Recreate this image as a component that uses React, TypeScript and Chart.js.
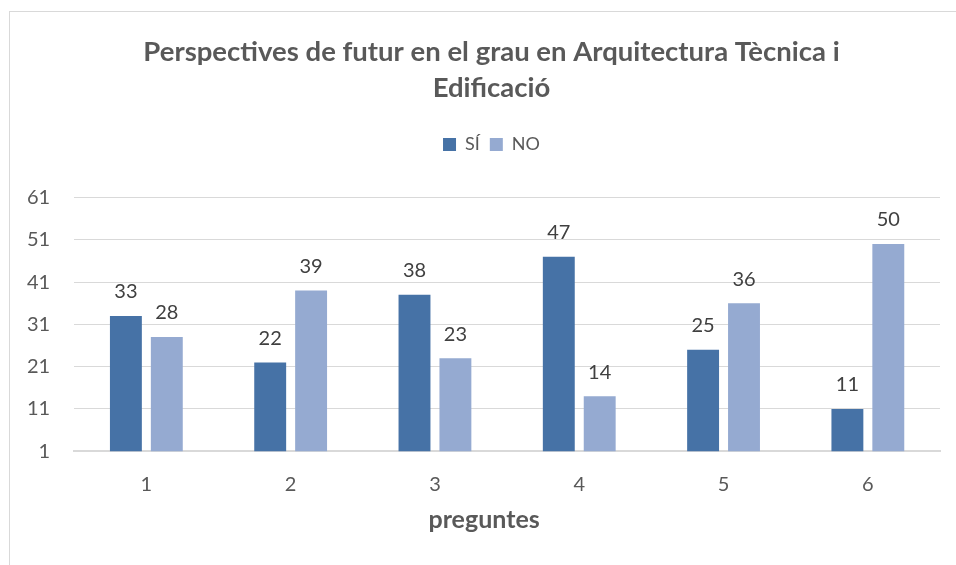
import React, { useEffect, useRef } from "react";
import { Chart, registerables } from "chart.js";

Chart.register(...registerables);

const categories = ["1", "2", "3", "4", "5", "6"];
const siValues = [33, 22, 38, 47, 25, 11];
const noValues = [28, 39, 23, 14, 36, 50];
const titleLines = ["Perspectives de futur en el grau en Arquitectura Tècnica i", "Edificació"];
const xTitle = "preguntes";
const FONT = "Lato, 'Noto Sans', sans-serif";

const dataLabels = {
  id: "dataLabels",
  afterDatasetsDraw(chart: any) {
    const ctx = chart.ctx;
    ctx.save();
    ctx.font = `20px ${FONT}`;
    ctx.fillStyle = "#404040";
    ctx.textAlign = "center";
    ctx.textBaseline = "middle";
    chart.data.datasets.forEach((ds: any, i: number) => {
      const meta = chart.getDatasetMeta(i);
      meta.data.forEach((bar: any, j: number) => {
        ctx.fillText(String(ds.data[j]), bar.x, bar.y - 24);
      });
    });
    ctx.restore();
  },
};

const xTitleDraw = {
  id: "xTitleDraw",
  afterDraw(chart: any) {
    const ctx = chart.ctx;
    const xs = chart.scales.x;
    const ca = chart.chartArea;
    ctx.save();
    ctx.font = `bold 25px ${FONT}`;
    ctx.fillStyle = "#595959";
    ctx.textAlign = "center";
    ctx.textBaseline = "middle";
    ctx.fillText(xTitle, (ca.left + ca.right) / 2 - 23, xs.bottom - 15);
    ctx.restore();
  },
};

const legendSpacer = {
  id: "legendSpacer",
  beforeInit(chart: any) {
    const orig = chart.legend.fit;
    chart.legend.fit = function () {
      orig.bind(chart.legend)();
      this.height += 34;
    };
  },
  afterLayout(chart: any) {
    for (const b of [chart.titleBlock, chart.legend]) {
      if (b) {
        b.left += 20;
        b.right += 20;
      }
    }
  },
};

export default function App() {
  const ref = useRef<HTMLCanvasElement>(null);
  useEffect(() => {
    if (!ref.current) return;
    const chart = new Chart(ref.current, {
      type: "bar",
      data: {
        labels: categories,
        datasets: [
          { label: "SÍ", data: siValues, backgroundColor: "#4672A6", borderWidth: 0 },
          { label: "NO", data: noValues, backgroundColor: "#95AAD1", borderWidth: 0 },
        ],
      },
      options: {
        animation: false,
        responsive: false,
        maintainAspectRatio: false,
        layout: { padding: { left: 3, right: 16, top: 0, bottom: 30 } },
        datasets: { bar: { categoryPercentage: 0.567, barPercentage: 0.78 } },
        plugins: {
          title: {
            display: true,
            text: titleLines,
            color: "#595959",
            font: { family: FONT, size: 27.5, weight: "bold", lineHeight: 1.3 },
            padding: { top: 34, bottom: 20 },
          },
          legend: {
            display: true,
            position: "top",
            labels: {
              color: "#595959",
              font: { family: FONT, size: 18 },
              boxWidth: 13,
              boxHeight: 13,
              padding: 10,
            },
          },
          tooltip: { enabled: false },
        },
        scales: {
          x: {
            grid: { display: false, drawTicks: false },
            border: { display: true, color: "#d9d9d9", width: 2 },
            ticks: { color: "#595959", font: { family: FONT, size: 20 }, padding: 21 },
            title: {
              display: true,
              text: xTitle,
              color: "rgba(0,0,0,0)",
              font: { family: FONT, size: 24, weight: "bold" },
              padding: { top: -11, bottom: 0 },
            },
          },
          y: {
            min: 1,
            max: 61,
            ticks: { stepSize: 10, color: "#595959", font: { family: FONT, size: 20 }, padding: 24 },
            grid: { color: "#d9d9d9", lineWidth: 1, drawTicks: false },
            border: { display: false },
          },
        },
      },
      plugins: [dataLabels, legendSpacer, xTitleDraw],
    });
    return () => chart.destroy();
  }, []);
  return (
    <div style={{ position: "fixed", left: 0, top: 0, width: 956, height: 565, overflow: "hidden", background: "#fff" }}>
      <div style={{ position: "absolute", left: 9, top: 11, width: 1000, height: 600, borderLeft: "1px solid #d9d9d9", borderTop: "1px solid #d9d9d9" }} />
      <canvas ref={ref} width={956} height={565} style={{ position: "absolute", left: 0, top: 0 }} />
    </div>
  );
}
